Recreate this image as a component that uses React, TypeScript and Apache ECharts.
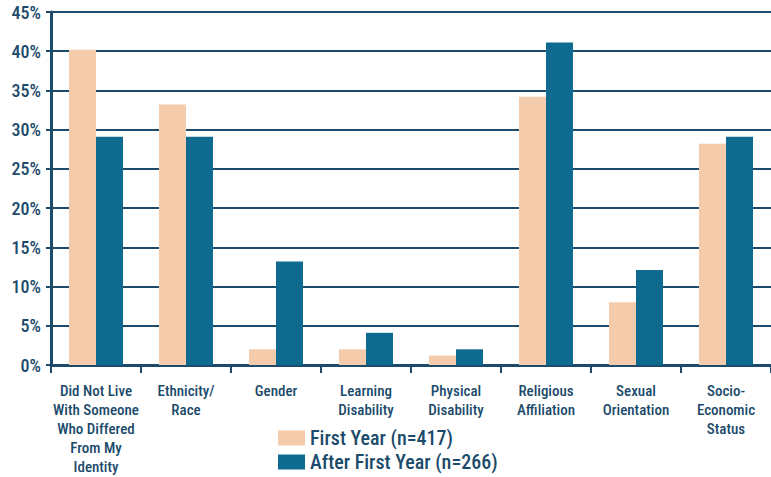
import React, { useEffect, useRef } from "react";
import * as echarts from "echarts";

const categories = [
  "Did Not Live\nWith Someone\nWho Differed\nFrom My\nIdentity",
  "Ethnicity/\nRace",
  "Gender",
  "Learning\nDisability",
  "Physical\nDisability",
  "Religious\nAffiliation",
  "Sexual\nOrientation",
  "Socio-\nEconomic\nStatus",
];
const firstYear = [40.2, 33.2, 2, 2, 1.2, 34.2, 8, 28.2];
const afterFirstYear = [29.1, 29.1, 13.2, 4.1, 2, 41.1, 12.1, 29.1];
const seriesNames = ["First Year (n=417)", "After First Year (n=266)"];

const FONT = "'Liberation Sans Narrow', 'Roboto Condensed', 'Arial Narrow', Roboto, sans-serif";
const INK = "#1b4a6b";
const PEACH = "#f4cbab";
const TEAL = "#0e6b8f";

export default function App() {
  const ref = useRef<HTMLDivElement>(null);
  useEffect(() => {
    if (!ref.current) return;
    const chart = echarts.init(ref.current, undefined, { renderer: "svg" });
    chart.setOption({
      animation: false,
      textStyle: { fontFamily: FONT },
      grid: { left: 51, top: 12, right: -11, bottom: 112, containLabel: false },
      legend: {
        orient: "vertical",
        left: 278,
        top: 428,
        padding: 0,
        height: 60,
        itemWidth: 27,
        itemHeight: 15,
        itemGap: 4,
        icon: "rect",
        textStyle: { fontFamily: FONT, fontSize: 20, fontWeight: 500, color: INK },
        data: seriesNames,
      },
      xAxis: {
        type: "category",
        data: categories,
        axisLine: { lineStyle: { color: INK, width: 3 } },
        axisTick: { show: true, length: 8, lineStyle: { color: INK, width: 2 } },
        axisLabel: {
          interval: 0,
          margin: 16,
          fontFamily: FONT,
          fontSize: 15,
          fontWeight: 500,
          lineHeight: 19,
          color: INK,
        },
      },
      yAxis: {
        type: "value",
        min: 0,
        max: 45,
        interval: 5,
        axisLine: { show: true, lineStyle: { color: INK, width: 3 } },
        axisTick: { show: true, length: 5, lineStyle: { color: INK, width: 2 } },
        axisLabel: {
          formatter: "{value}%",
          margin: 10,
          fontFamily: FONT,
          fontSize: 18,
          fontWeight: 500,
          color: INK,
        },
        splitLine: { show: true, lineStyle: { color: INK, width: 2 } },
      },
      series: [
        {
          name: seriesNames[0],
          type: "bar",
          data: firstYear,
          itemStyle: { color: PEACH },
          barGap: "0%",
          barCategoryGap: "40%",
        },
        {
          name: seriesNames[1],
          type: "bar",
          data: afterFirstYear,
          itemStyle: { color: TEAL },
          barGap: "0%",
          barCategoryGap: "40%",
        },
      ],
    });
    return () => chart.dispose();
  }, []);
  return <div ref={ref} style={{ width: 771, height: 477, position: "absolute", left: 0, top: 0 }} />;
}
